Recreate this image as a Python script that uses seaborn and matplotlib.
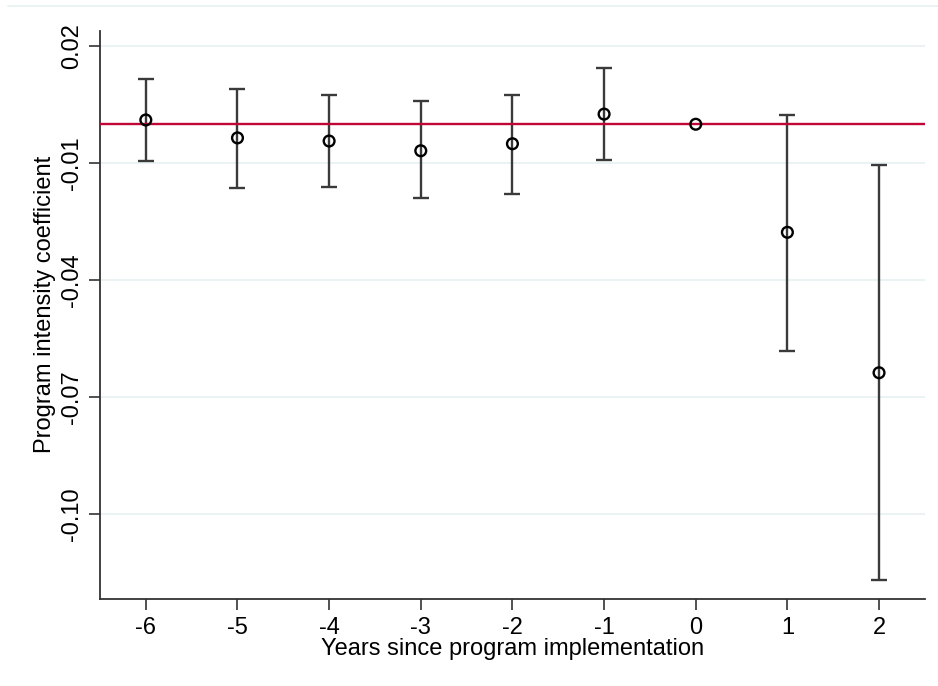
import numpy as np
import pandas as pd
import matplotlib
matplotlib.use('Agg')
import matplotlib.pyplot as plt
import seaborn as sns

# 系数与置信区间
years = [-6, -5, -4, -3, -2, -1, 0, 1, 2]
coef = [0.0011, -0.0035, -0.0043, -0.0068, -0.0050, 0.0026, 0.0000, -0.0277, -0.0637]
ci_low = [-0.0094, -0.0163, -0.0160, -0.0190, -0.0180, -0.0091, np.nan, -0.0581, -0.1168]
ci_high = [0.0116, 0.0090, 0.0075, 0.0060, 0.0075, 0.0144, np.nan, 0.0024, -0.0104]
yticks = [0.02, -0.01, -0.04, -0.07, -0.10]

df = pd.DataFrame({'year': years, 'coef': coef, 'lo': ci_low, 'hi': ci_high})

sns.set_style('white')
plt.rcParams['font.family'] = ['Liberation Sans', 'DejaVu Sans']
plt.rcParams['text.color'] = 'black'
plt.rcParams['axes.labelcolor'] = 'black'
plt.rcParams['xtick.color'] = 'black'
plt.rcParams['ytick.color'] = 'black'

fig = plt.figure(figsize=(9.38, 6.86), dpi=100)
ax = fig.add_axes([0.1066, 0.1268, 0.8794, 0.828])

# 网格线
for t in yticks:
    ax.axhline(t, color='#e9f1f3', linewidth=1.3, zorder=0)

# 置信区间
ci = df.dropna()
ax.errorbar(ci['year'], ci['coef'],
            yerr=[ci['coef'] - ci['lo'], ci['hi'] - ci['coef']],
            fmt='none', ecolor='#3a3a3a', elinewidth=1.7, capsize=6, capthick=1.7, zorder=2)

# 零线
ax.axhline(0, color='#c10534', linewidth=1.7, zorder=3)

sns.scatterplot(data=df, x='year', y='coef', ax=ax, marker='o', s=60,
                facecolor='none', edgecolor='black', linewidth=1.7, zorder=4)

ax.set_xlim(-6.5, 2.5)
ax.set_ylim(-0.1217, 0.0239)
ax.set_xticks(years)
ax.set_xticklabels([str(y) for y in years], fontsize=17)
ax.set_yticks(yticks)
ax.set_yticklabels(['%.2f' % t for t in yticks], fontsize=17, rotation=90, va='center')

for s in ['top', 'right']:
    ax.spines[s].set_visible(False)
for s in ['left', 'bottom']:
    ax.spines[s].set_color('#333333')
    ax.spines[s].set_linewidth(1.3)
ax.tick_params(axis='both', direction='out', length=8, width=1.2, color='#333333', left=True, bottom=True)
ax.tick_params(axis='x', pad=5)
ax.tick_params(axis='y', pad=4)

ax.set_xlabel('Years since program implementation', fontsize=17, labelpad=-1)
ax.set_ylabel('Program intensity coefficient', fontsize=17)
ax.yaxis.set_label_coords(-0.053, 0.518)

# 外框淡线
fig.add_artist(plt.Line2D([0.009, 1.0], [0.9912, 0.9912], color='#e9f1f3', linewidth=1.3))

plt.savefig('out.png', dpi=100)
